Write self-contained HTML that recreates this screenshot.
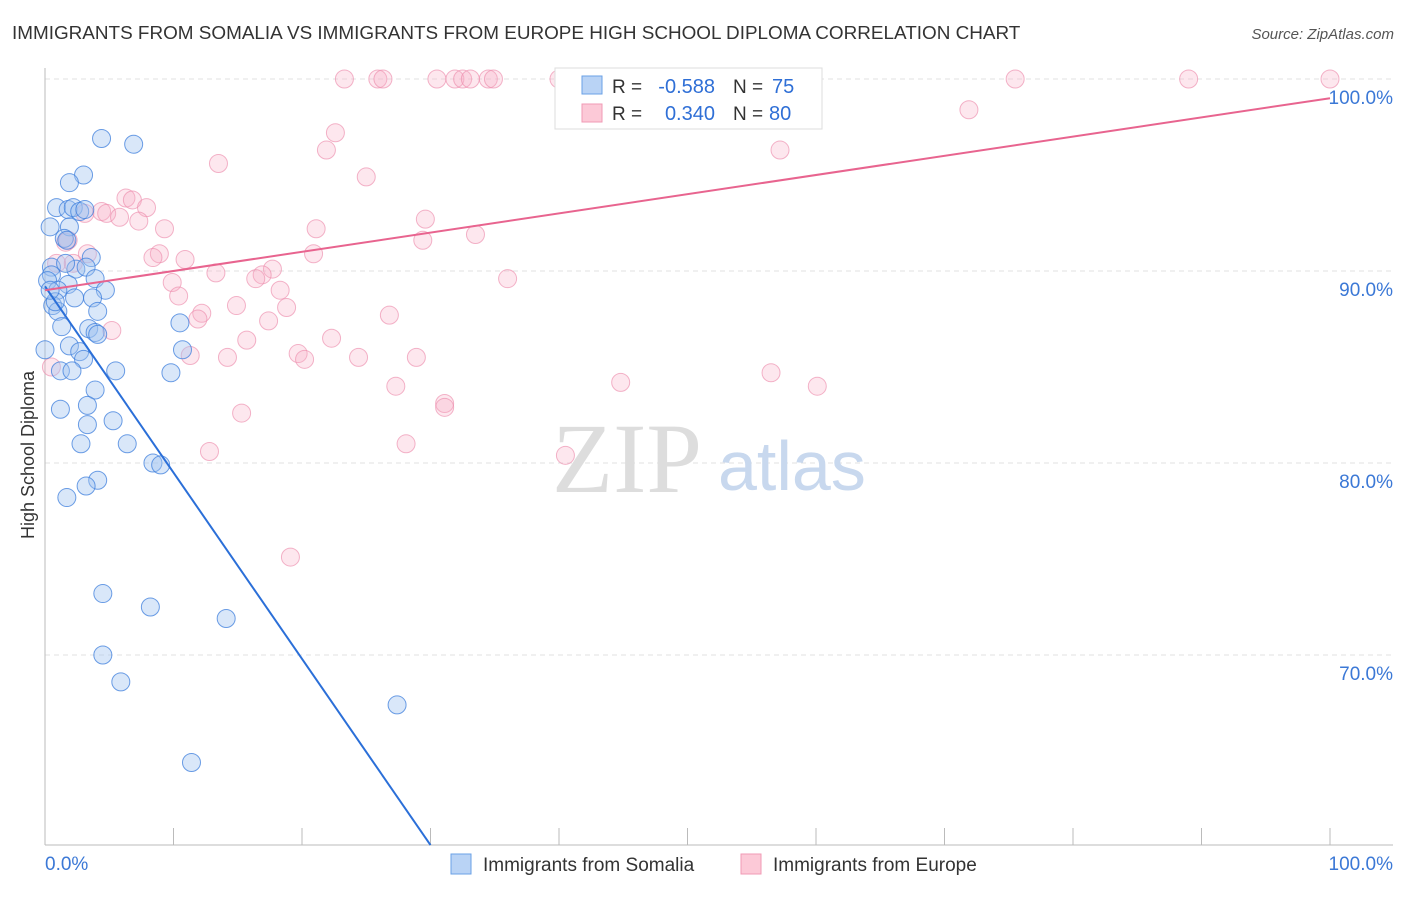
<!DOCTYPE html>
<html><head><meta charset="utf-8"><style>
body{margin:0;background:#fff;font-family:"Liberation Sans",sans-serif;}
</style></head><body>
<svg width="1406" height="892" xmlns="http://www.w3.org/2000/svg" font-family="Liberation Sans, sans-serif">
<text x="12" y="39" font-size="18.9" fill="#333">IMMIGRANTS FROM SOMALIA VS IMMIGRANTS FROM EUROPE HIGH SCHOOL DIPLOMA CORRELATION CHART</text>
<text x="1394" y="39" font-size="15" fill="#555" text-anchor="end" font-style="italic">Source: ZipAtlas.com</text>
<g id="grid"></g>
<g id="axes"></g>
<text x="552" y="492" font-size="100" fill="#ddd" style="font-family:'Liberation Serif',serif">ZIP</text>
<text x="718" y="490" font-size="70" fill="#c8d8ee">atlas</text>
<g id="pts"></g>
<g id="lines"></g>
<text x="34" y="455" font-size="18" fill="#333" transform="rotate(-90 34 455)" text-anchor="middle">High School Diploma</text>
<g>
<rect x="555" y="68" width="267" height="61" fill="#fff" stroke="#ddd"/>
<rect x="582" y="76" width="20" height="18" fill="#b9d3f5" stroke="#6aa0e6"/>
<rect x="582" y="104" width="20" height="18" fill="#fcc9d7" stroke="#f09ab4"/>
<text x="612" y="93" font-size="19" fill="#333">R =</text>
<text x="715" y="93" font-size="20" fill="#2f6fd6" text-anchor="end">-0.588</text>
<text x="733" y="93" font-size="19" fill="#333">N =</text>
<text x="772" y="93" font-size="20" fill="#2f6fd6">75</text>
<text x="612" y="120" font-size="19" fill="#333">R =</text>
<text x="715" y="120" font-size="20" fill="#2f6fd6" text-anchor="end">0.340</text>
<text x="733" y="120" font-size="19" fill="#333">N =</text>
<text x="769" y="120" font-size="20" fill="#2f6fd6">80</text>
</g>
<g>
<rect x="451" y="854" width="20" height="20" fill="#b9d3f5" stroke="#6aa0e6"/>
<text x="483" y="871" font-size="19" fill="#333">Immigrants from Somalia</text>
<rect x="741" y="854" width="20" height="20" fill="#fcc9d7" stroke="#f09ab4"/>
<text x="773" y="871" font-size="19" fill="#333">Immigrants from Europe</text>
</g>
</svg>
<script>
const yTicks=[100,90,80,70];
const xTickLabels=["0.0%","100.0%"];
const blueX=[4.4,6.9,3.0,1.9,0.9,1.8,2.2,2.7,3.1,0.4,1.9,1.5,1.7,3.6,0.5,0.5,2.4,3.2,3.9,0.2,1.8,1.0,4.7,2.3,3.7,0.6,1.0,4.1,1.3,3.4,3.9,4.1,10.5,1.9,2.7,3.0,10.7,1.2,2.1,5.5,9.8,3.9,3.3,1.2,5.3,3.3,2.8,6.4,8.4,9.0,4.1,3.2,1.7,4.5,8.2,14.1,4.5,5.9,27.4,11.4,0.0,0.8,0.4,1.6];
const blueY=[96.9,96.6,95.0,94.6,93.3,93.2,93.3,93.1,93.2,92.3,92.3,91.7,91.6,90.7,90.2,89.8,90.1,90.2,89.6,89.5,89.3,89.0,89.0,88.6,88.6,88.2,87.9,87.9,87.1,87.0,86.8,86.7,87.3,86.1,85.8,85.4,85.9,84.8,84.8,84.8,84.7,83.8,83.0,82.8,82.2,82.0,81.0,81.0,80.0,79.9,79.1,78.8,78.2,73.2,72.5,71.9,70.0,68.6,67.4,64.4,85.9,88.4,89.0,90.4];
const pinkX=[23.3,25.9,26.3,30.5,31.9,32.5,33.1,34.5,34.9,40.0,47.9,75.5,89.0,100,71.9,22.6,21.9,57.2,13.5,25.0,6.3,6.8,7.9,4.4,4.8,3.1,5.8,7.3,9.3,21.1,29.6,29.4,33.5,1.8,3.3,8.9,8.4,10.9,20.9,0.9,2.2,17.7,16.9,16.4,13.3,9.9,36.0,18.3,10.4,14.9,18.8,12.2,11.9,26.8,17.4,5.2,15.7,22.3,19.7,20.2,11.3,14.2,24.4,28.9,27.3,44.8,56.5,60.1,15.3,31.1,31.1,28.1,12.8,40.5,19.1,0.5,1.6];
const pinkY=[100,100,100,100,100,100,100,100,100,100,100,100,100,100,98.4,97.2,96.3,96.3,95.6,94.9,93.8,93.7,93.3,93.1,93.0,93.0,92.8,92.6,92.2,92.2,92.7,91.6,91.9,91.6,90.9,90.9,90.7,90.6,90.9,90.4,90.4,90.1,89.8,89.6,89.9,89.4,89.6,89.0,88.7,88.2,88.1,87.8,87.5,87.7,87.4,86.9,86.4,86.5,85.7,85.4,85.6,85.5,85.5,85.5,84.0,84.2,84.7,84.0,82.6,83.1,82.9,81.0,80.6,80.4,75.1,85.0,91.5];
const blueTrend=[0,89.2,30,60.1];
const pinkTrend=[0,89.0,100,99.0];
const X0=45,X1=1330,Y100=79,YPER=19.2;
const sx=v=>X0+(X1-X0)*v/100, sy=v=>Y100+(100-v)*YPER;
const NS="http://www.w3.org/2000/svg";
function mk(t,a,p){const e=document.createElementNS(NS,t);for(const k in a)e.setAttribute(k,a[k]);p.appendChild(e);return e;}
const grid=document.getElementById('grid'),axes=document.getElementById('axes'),pts=document.getElementById('pts'),lines=document.getElementById('lines');
yTicks.forEach(t=>{
 const l=mk('line',{x1:45,x2:1393,y1:sy(t),y2:sy(t),stroke:'#e2e2e2','stroke-dasharray':'5,4'},grid);
 
 
 const tx=mk('text',{x:1393,y:sy(t)+25,'font-size':19,fill:'#3b78d6','text-anchor':'end'},axes);
 tx.textContent=t.toFixed(1)+'%';
 
 
});
mk('line',{x1:45,x2:45,y1:68,y2:845,stroke:'#bbb'},axes);
mk('line',{x1:45,x2:1393,y1:845,y2:845,stroke:'#bbb'},axes);
for(let i=0;i<=10;i++){const t=mk('line',{x1:sx(i*10),x2:sx(i*10),y1:828,y2:845,stroke:'#bbb'},axes);
 
 }
[[45,'start',0],[1393,'end',1]].forEach(([x,a,i])=>{const t=mk('text',{x:x,y:870,'font-size':19,fill:'#3b78d6','text-anchor':a},axes);t.textContent=xTickLabels[i];
 
 });
pinkX.forEach((x,i)=>{const c=mk('circle',{cx:sx(x),cy:sy(pinkY[i]),r:9,fill:'rgba(248,175,198,0.3)',stroke:'rgba(236,140,172,0.65)','stroke-width':1},pts);
 
 });
blueX.forEach((x,i)=>{const c=mk('circle',{cx:sx(x),cy:sy(blueY[i]),r:9,fill:'rgba(160,195,240,0.4)',stroke:'rgba(60,125,220,0.75)','stroke-width':1},pts);
 
 });
const bl=mk('line',{x1:sx(blueTrend[0]),y1:sy(blueTrend[1]),x2:sx(blueTrend[2]),y2:sy(blueTrend[3]),stroke:'#2b6fd8','stroke-width':2},lines);


const pl=mk('line',{x1:sx(pinkTrend[0]),y1:sy(pinkTrend[1]),x2:sx(pinkTrend[2]),y2:sy(pinkTrend[3]),stroke:'#e8648f','stroke-width':2},lines);


</script>
</body></html>
